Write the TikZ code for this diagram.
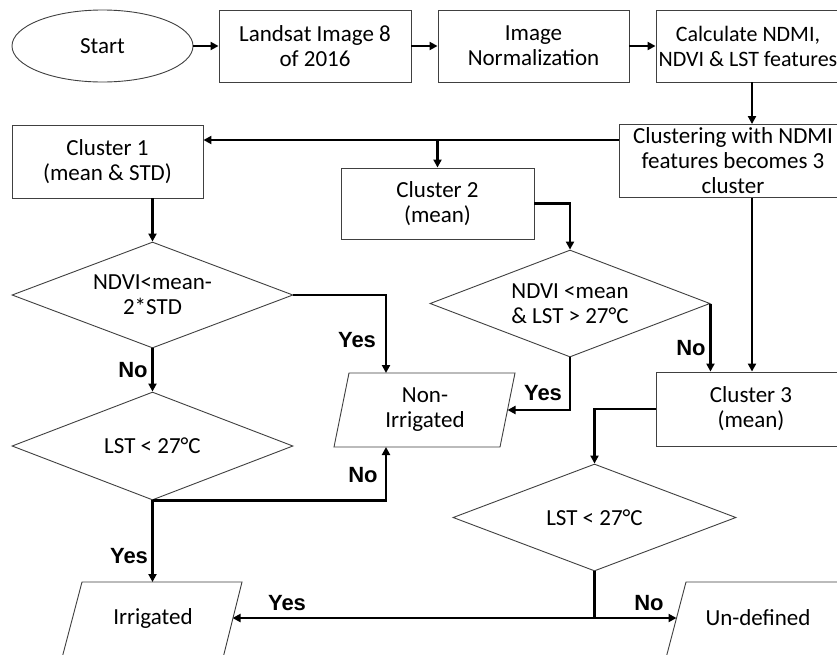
\documentclass[tikz,border=0pt]{standalone}
\usepackage{fontspec}
\setmainfont{Carlito}
\newfontfamily\lblfont{Liberation Sans}
\usetikzlibrary{shapes.geometric,arrows.meta}
\begin{document}
\begin{tikzpicture}[x=1pt,y=-1pt,
  txt/.style={font=\fontsize{23}{25}\selectfont},
  box/.style={txt,draw=black!75,line width=0.9pt,fill=white,align=center,inner sep=0pt},
  dia/.style={txt,diamond,draw=black!75,line width=0.9pt,align=center,inner sep=0pt,aspect=2.6},
  shp/.style={draw=black!75,line width=0.9pt},
  conn/.style={line width=2.6pt,-{Triangle[length=8pt,width=8pt]}},
  plain/.style={line width=2.6pt},
  lbl/.style={font=\lblfont\bfseries\fontsize{22}{24}\selectfont,inner sep=0pt}]
\useasboundingbox (0,0) rectangle (837,654);
\clip (0,0) rectangle (837,654);
\fill[white] (0,0) rectangle (837,654);

% top row
\node[box,ellipse,minimum width=181pt,minimum height=72pt] (start) at (102.5,46) {Start};
\node[box,minimum width=192pt,minimum height=72pt] (land) at (315,46) {Landsat Image 8\\of 2016};
\node[box,minimum width=191pt,minimum height=72pt] (norm) at (533.5,46) {Image\\Normalization};
\node[box,minimum width=192pt,minimum height=72pt] (calc) at (752,46) {};
\node[txt,align=center,font=\fontsize{22}{25}\selectfont,inner sep=0pt] (calct) at (748,46) {Calculate NDMI,\\NDVI \& LST features};

% clusters
\node[box,minimum width=228pt,minimum height=73pt] (clust) at (733,161) {Clustering with NDMI\\features becomes 3\\cluster};
\node[box,minimum width=191pt,minimum height=73pt] (c1) at (107.5,161.5) {Cluster 1\\(mean \& STD)};
\node[box,minimum width=193pt,minimum height=71pt] (c2) at (437.5,203.5) {Cluster 2\\(mean)};
\node[box,minimum width=190pt,minimum height=74pt] (c3) at (751,409) {Cluster 3\\(mean)};

% decisions
\node[dia,minimum width=281pt,minimum height=106pt] (d1) at (152.5,295) {NDVI<mean-\\2*STD};
\node[dia,minimum width=281pt,minimum height=108pt] (d1b) at (152.5,446) {LST < 27°C};
\node[dia,minimum width=280pt,minimum height=107pt] (d2) at (570,303.5) {NDVI <mean\\\& LST > 27°C};
\node[dia,minimum width=283pt,minimum height=107pt] (d3) at (594.5,517.5) {LST < 27°C};

% parallelograms (outputs)
\draw[shp] (349,373) -- (515,373) -- (500,447) -- (334,447) -- cycle;
\node[txt,align=center] (ni) at (425,410) {Non-\\Irrigated};
\coordinate (niT) at (386,373);
\coordinate (niB) at (386,447);
\coordinate (niR) at (507.5,410);

\draw[shp] (82,582) -- (242,582) -- (223,658) -- (62,658) -- cycle;
\node[txt] (irr) at (153,618) {Irrigated};
\coordinate (irrT) at (152.5,582);
\coordinate (irrR) at (232.5,618);

\draw[shp] (686,582) -- (860,582) -- (840,658) -- (666,658) -- cycle;
\node[txt] (und) at (758,618) {Un-defined};
\coordinate (undL) at (676.5,618);

% connectors: top row
\draw[conn] (start) -- (land);
\draw[conn] (land) -- (norm);
\draw[conn] (norm) -- (calc);
\draw[conn] (calc.south) -- (calc.south |- clust.north);

% clustering to clusters
\coordinate (j1) at (619,140);
\draw[conn] (j1) -- (c1.east |- j1);
\draw[conn] (c2.north |- j1) -- (c2.north);
\draw[conn] (calc.south |- clust.south) -- (calc.south |- c3.north);

% cluster 1 branch
\draw[conn] (c1.south -| d1.north) -- (d1.north);
\draw[conn] (d1.east) -| (niT);
\draw[conn] (d1.south) -- (d1b.north);
\draw[conn] (d1b.south) -- (irrT);
\draw[conn] (d1b.south) -| (niB);

% cluster 2 branch
\draw[conn] (c2.east) -| (d2.north);
\draw[conn] (d2.east) -- (d2.east |- c3.north);
\draw[conn] (d2.south) |- (niR);

% cluster 3 branch
\draw[conn] (c3.west) -| (d3.north);
\coordinate (j3) at (d3.south |- undL);
\draw[plain] (d3.south) -- (j3);
\draw[conn] (j3) -- (irrR);
\draw[conn] (j3) -- (undL);

% labels
\node[lbl] (l1) at (357,340) {Yes};
\node[lbl] (l2) at (133,370) {No};
\node[lbl] (l3) at (363,475) {No};
\node[lbl] (l4) at (129,556) {Yes};
\node[lbl] (l5) at (287,603) {Yes};
\node[lbl] (l6) at (649,603) {No};
\node[lbl] (l7) at (691,348) {No};
\node[lbl] (l8) at (543,393) {Yes};
\end{tikzpicture}
\end{document}
